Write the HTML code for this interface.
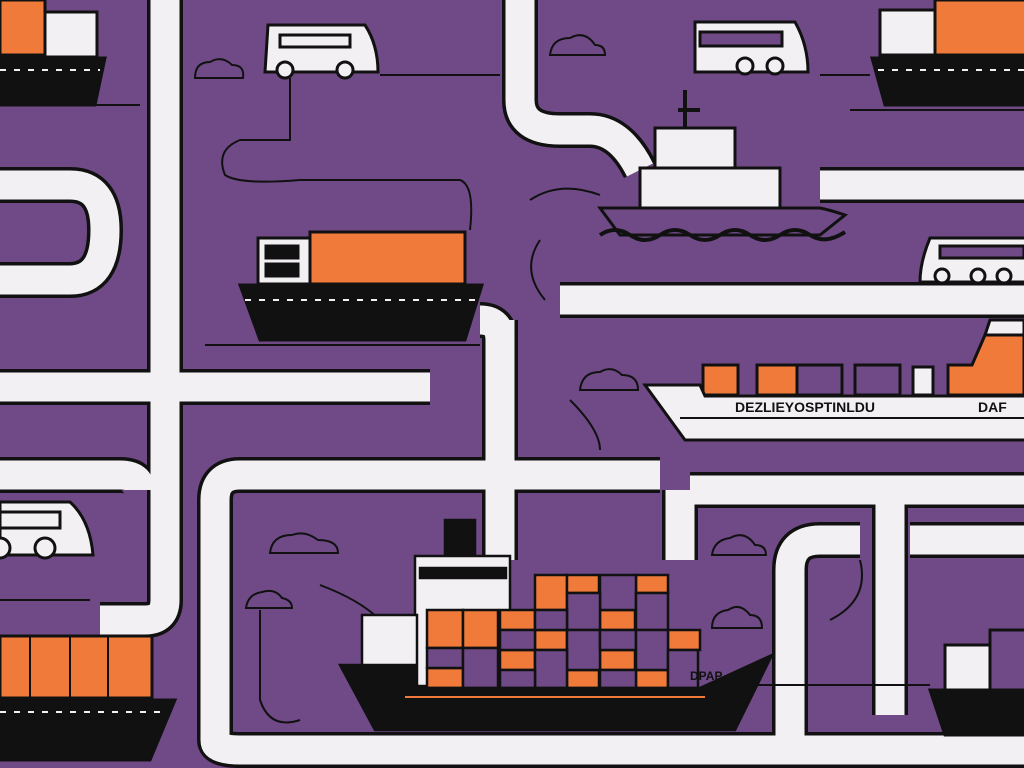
<!DOCTYPE html>
<html><head><meta charset="utf-8"><style>html,body{margin:0;padding:0;background:#6f4a87;overflow:hidden}svg{display:block}</style></head>
<body>
<svg width="1024" height="768" viewBox="0 0 1024 768" xmlns="http://www.w3.org/2000/svg" font-family="Liberation Sans, sans-serif">
<rect width="1024" height="768" fill="#6f4a87"/>
<defs>
<g id="pipes" fill="none" stroke-linejoin="round">
<path d="M165 0 V600 Q165 620 145 620 H100"/>
<path d="M0 387 H430"/>
<path d="M0 475 H120 Q140 475 140 490"/>
<path d="M0 185 H70 Q105 185 105 230 Q105 280 70 280 H0"/>
<path d="M520 0 V100 Q520 130 560 130 H590 Q620 130 640 170"/>
<path d="M500 320 V560"/>
<path d="M480 320 Q500 320 500 340"/>
<path d="M820 185 H1024"/>
<path d="M560 300 H1024"/>
<path d="M660 475 H240 Q215 475 215 500 V740 Q215 750 240 750 H1024"/>
<path d="M690 490 H1024"/>
<path d="M680 490 V560"/>
<path d="M860 540 H820 Q790 540 790 570 V740"/>
<path d="M890 500 V715"/>
<path d="M910 540 H1024"/>
</g>
</defs>
<use href="#pipes" stroke="#111" stroke-width="36"/>
<use href="#pipes" stroke="#f2f0f2" stroke-width="29"/>
<!-- thin wires -->
<g fill="none" stroke="#111" stroke-width="2">
<path d="M290 78 V140 H240 Q215 150 225 175 Q240 185 300 180 H460 Q475 185 470 230"/>
<path d="M205 345 H480"/><path d="M380 75 H500"/><path d="M820 75 H870"/><path d="M850 110 H1024"/>
<path d="M530 200 Q560 180 600 195"/><path d="M540 240 Q520 270 545 300"/>
<path d="M570 400 Q600 430 600 450"/><path d="M260 610 V700 Q270 730 300 720"/>
<path d="M320 585 Q360 600 380 620"/><path d="M750 685 H930"/><path d="M860 560 Q870 600 830 620"/>
<path d="M0 600 H90"/><path d="M0 105 H140"/>
</g>
<!-- clouds -->
<g fill="none" stroke="#111" stroke-width="2">
<path d="M195 78 Q195 62 210 62 Q222 55 232 65 Q245 65 243 78 Z"/>
<path d="M550 55 Q552 38 570 38 Q585 30 595 45 Q605 45 605 55 Z"/>
<path d="M580 390 Q582 372 600 372 Q612 365 622 375 Q638 375 638 390 Z"/>
<path d="M270 553 Q272 535 292 535 Q305 530 318 540 Q338 540 338 553 Z"/>
<path d="M712 555 Q714 540 730 538 Q745 530 755 545 Q766 545 766 555 Z"/>
<path d="M246 608 Q248 594 262 592 Q275 588 282 598 Q292 600 292 608 Z"/>
<path d="M712 628 Q712 612 728 610 Q740 602 750 615 Q762 615 762 628 Z"/>
</g>
<!-- generic cargo ships -->
<g stroke="#111" stroke-width="3">
<!-- ship 240 -->
<rect x="310" y="232" width="155" height="52" fill="#f07a3a"/>
<rect x="258" y="238" width="52" height="46" fill="#f2f0f2"/>
<rect x="266" y="246" width="32" height="12" fill="#111"/><rect x="266" y="264" width="32" height="12" fill="#111"/>
<path d="M240 285 H482 L465 340 H260 Z" fill="#111"/>
<path d="M245 300 H478" stroke="#f2f0f2" stroke-width="2" stroke-dasharray="6 8"/>
<!-- top-left ship -->
<rect x="0" y="0" width="45" height="55" fill="#f07a3a"/>
<rect x="45" y="12" width="52" height="45" fill="#f2f0f2"/>
<path d="M0 58 H105 L95 105 H0 Z" fill="#111"/>
<path d="M0 70 H100" stroke="#f2f0f2" stroke-width="2" stroke-dasharray="6 8"/>
<!-- top-right ship -->
<rect x="935" y="0" width="95" height="55" fill="#f07a3a"/>
<rect x="880" y="10" width="55" height="45" fill="#f2f0f2"/>
<path d="M872 58 H1030 V105 H885 Z" fill="#111"/>
<path d="M878 70 H1024" stroke="#f2f0f2" stroke-width="2" stroke-dasharray="6 8"/>
<!-- bottom-left ship -->
<rect x="0" y="636" width="152" height="62" fill="#f07a3a"/>
<path d="M30 636 V698 M70 636 V698 M108 636 V698" stroke-width="2"/>
<path d="M0 700 H175 L150 760 H0 Z" fill="#111"/>
<path d="M0 712 H168" stroke="#f2f0f2" stroke-width="2" stroke-dasharray="6 8"/>
<!-- bottom-right ship -->
<rect x="990" y="630" width="40" height="60" fill="#6f4a87"/>
<rect x="945" y="645" width="45" height="45" fill="#f2f0f2"/>
<path d="M930 690 H1030 V735 H945 Z" fill="#111"/>
<!-- right white ship -->
<rect x="703" y="365" width="35" height="30" fill="#f07a3a"/>
<rect x="757" y="365" width="40" height="30" fill="#f07a3a"/>
<rect x="797" y="365" width="45" height="30" fill="#6f4a87"/>
<rect x="855" y="365" width="45" height="30" fill="#6f4a87"/>
<rect x="913" y="367" width="20" height="28" fill="#f2f0f2"/>
<path d="M948 395 V365 H972 L985 335 H1024 V395 Z" fill="#f07a3a"/>
<path d="M985 335 L990 320 H1024 V335 Z" fill="#f2f0f2"/>
<path d="M645 385 H700 L705 396 H1030 V440 H685 Z" fill="#f2f0f2"/>
<path d="M680 418 H1030" stroke-width="2"/>
</g>
<text x="735" y="412" font-size="14" font-weight="bold" fill="#111">DEZLIEYOSPTINLDU</text>
<text x="978" y="412" font-size="14" font-weight="bold" fill="#111">DAF</text>
<!-- ferry -->
<g stroke="#111" stroke-width="3">
<rect x="640" y="168" width="140" height="40" fill="#f2f0f2"/>
<rect x="655" y="128" width="80" height="40" fill="#f2f0f2"/>
<path d="M685 128 V90 M678 110 H700" stroke-width="4"/>
<path d="M600 208 H820 Q830 210 845 215 L820 235 H620 Z" fill="#6f4a87"/>
<path d="M600 235 Q615 225 630 235 Q645 245 660 235 Q675 225 690 235 Q705 245 720 235 Q735 225 750 235 Q765 245 780 235 Q795 225 810 235 Q825 245 845 232" fill="none" stroke-width="4"/>
</g>
<!-- big ship -->
<g stroke="#111" stroke-width="2.5">
<rect x="445" y="520" width="30" height="38" fill="#111"/>
<rect x="415" y="556" width="95" height="130" fill="#f2f0f2"/>
<rect x="420" y="568" width="86" height="10" fill="#111"/>
<rect x="362" y="615" width="55" height="70" fill="#f2f0f2"/>
<g fill="#f07a3a">
<rect x="427" y="610" width="36" height="38"/><rect x="463" y="610" width="35" height="38"/>
<rect x="500" y="610" width="35" height="20"/><rect x="535" y="575" width="32" height="35"/><rect x="567" y="575" width="32" height="18"/>
<rect x="636" y="575" width="32" height="18"/><rect x="600" y="610" width="35" height="20"/><rect x="668" y="630" width="32" height="20"/>
<rect x="535" y="630" width="32" height="20"/><rect x="600" y="650" width="35" height="20"/><rect x="500" y="650" width="35" height="20"/>
<rect x="427" y="668" width="36" height="20"/><rect x="567" y="670" width="32" height="18"/><rect x="636" y="670" width="32" height="18"/>
</g>
<g fill="#6f4a87">
<rect x="427" y="648" width="36" height="20"/><rect x="463" y="648" width="35" height="40"/>
<rect x="600" y="575" width="36" height="35"/><rect x="567" y="593" width="33" height="37"/><rect x="636" y="593" width="32" height="37"/>
<rect x="535" y="610" width="32" height="20"/><rect x="500" y="630" width="35" height="20"/><rect x="567" y="630" width="33" height="40"/>
<rect x="600" y="630" width="36" height="20"/><rect x="636" y="630" width="32" height="40"/><rect x="535" y="650" width="32" height="38"/>
<rect x="500" y="670" width="35" height="18"/><rect x="600" y="670" width="36" height="18"/><rect x="668" y="650" width="30" height="38"/>
</g>
<path d="M340 665 H415 V688 H700 L772 655 L735 730 H375 Z" fill="#111"/>
<path d="M405 697 H705" stroke="#f07a3a" stroke-width="2"/>
</g>
<text x="690" y="680" font-size="12" font-weight="bold" fill="#111">DPAP</text>
<!-- buses -->
<g stroke="#111" stroke-width="3">
<path d="M268 25 H365 Q378 45 378 72 H265 Z" fill="#f2f0f2"/>
<rect x="280" y="35" width="70" height="12" fill="#f2f0f2"/>
<circle cx="285" cy="70" r="8" fill="#f2f0f2"/><circle cx="345" cy="70" r="8" fill="#f2f0f2"/>
<path d="M695 22 H795 Q808 45 808 72 H695 Z" fill="#f2f0f2"/>
<rect x="700" y="32" width="82" height="14" fill="#6f4a87"/>
<circle cx="745" cy="66" r="8" fill="#f2f0f2"/><circle cx="775" cy="66" r="8" fill="#f2f0f2"/>
<path d="M930 238 H1030 V282 H920 Q920 262 930 238 Z" fill="#f2f0f2"/>
<rect x="940" y="246" width="84" height="12" fill="#6f4a87"/>
<circle cx="942" cy="276" r="7" fill="#f2f0f2"/><circle cx="978" cy="276" r="7" fill="#f2f0f2"/><circle cx="1004" cy="276" r="7" fill="#f2f0f2"/>
<path d="M0 502 H70 Q90 520 93 555 H0 Z" fill="#f2f0f2"/>
<rect x="0" y="512" width="60" height="16" fill="#f2f0f2"/>
<circle cx="45" cy="548" r="10" fill="#f2f0f2"/><circle cx="0" cy="548" r="10" fill="#f2f0f2"/>
</g>
</svg>
</body></html>
